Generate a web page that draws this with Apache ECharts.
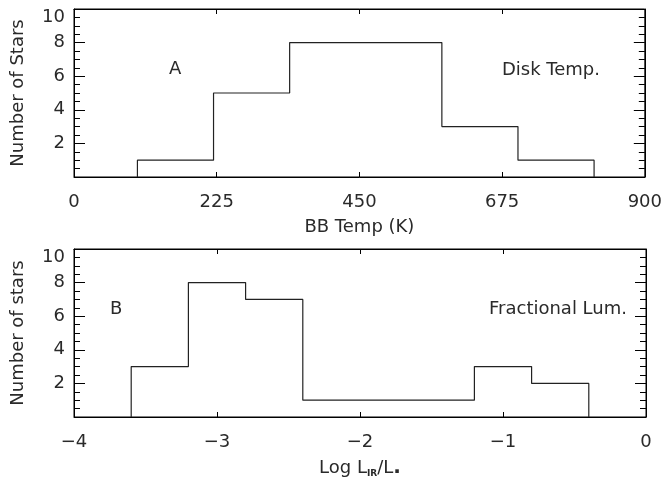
<!DOCTYPE html>
<html>
<head>
<meta charset="utf-8">
<script src="https://cdn.jsdelivr.net/npm/echarts@6/dist/echarts.min.js"></script>
<style>
html,body{margin:0;padding:0;background:#fff;}
#chart{width:665px;height:479px;}
</style>
</head>
<body>
<div id="chart"></div>
<script>
// Panel A: disk blackbody temperature histogram
var tempEdges = [100, 220, 340, 460, 580, 700, 820];
var tempCounts = [1, 5, 8, 8, 3, 1];
var tempTicks = [0, 225, 450, 675, 900];

// Panel B: fractional luminosity histogram
var lumEdges = [-3.6, -3.2, -2.8, -2.4, -2.0, -1.6, -1.2, -0.8, -0.4];
var lumCounts = [3, 8, 7, 1, 1, 1, 3, 2];
var lumTicks = [-4, -3, -2, -1, 0];

var yTicks = [2, 4, 6, 8, 10];

function stepPoints(edges, counts) {
  var pts = [[edges[0], 0]];
  for (var i = 0; i < counts.length; i++) {
    pts.push([edges[i], counts[i]]);
    pts.push([edges[i + 1], counts[i]]);
  }
  pts.push([edges[edges.length - 1], 0]);
  return pts;
}

var FONT = 'DejaVu Sans';
var FS = 18;
var TXT = '#2a2a2a';

function xAxisBottom(gi, ticks, name, nameRich) {
  return {
    type: 'value', gridIndex: gi, position: 'bottom',
    min: ticks[0], max: ticks[ticks.length - 1], interval: ticks[1] - ticks[0],
    axisLine: {show: true, onZero: false, lineStyle: {color: '#000', width: 1}},
    axisTick: {show: true, inside: true, length: 5, lineStyle: {color: '#000'}},
    splitLine: {show: false},
    axisLabel: {
      margin: 16, fontFamily: FONT, fontSize: FS, color: TXT,
      formatter: function (v) { return String(v).replace('-', '\u2212'); }
    },
    name: name, nameLocation: 'middle', nameGap: 41,
    nameTextStyle: {fontFamily: FONT, fontSize: FS, color: TXT, rich: nameRich || {}}
  };
}
function xAxisTop(gi, ticks) {
  return {
    type: 'value', gridIndex: gi, position: 'top',
    min: ticks[0], max: ticks[ticks.length - 1], interval: ticks[1] - ticks[0],
    axisLine: {show: true, onZero: false, lineStyle: {color: '#000', width: 1}},
    axisTick: {show: true, inside: true, length: 5, lineStyle: {color: '#000'}},
    splitLine: {show: false},
    axisLabel: {show: false}
  };
}
function yAxisLeft(gi, name) {
  return {
    type: 'value', gridIndex: gi, position: 'left', min: 0, max: 10, interval: 2,
    axisLine: {show: true, onZero: false, lineStyle: {color: '#000', width: 1}},
    axisTick: {show: true, inside: true, length: 11, lineStyle: {color: '#000'}},
    minorTick: {show: true, splitNumber: 4, length: 6, lineStyle: {color: '#000'}},
    splitLine: {show: false},
    axisLabel: {
      margin: 9, fontFamily: FONT, fontSize: FS, color: TXT,
      formatter: function (v) {
        if (v === 10) return '{top|10}';
        return yTicks.indexOf(v) >= 0 ? String(v) : '';
      },
      rich: {top: {fontFamily: FONT, fontSize: FS, color: TXT, padding: [16, 0, 0, 0]}}
    },
    name: name, nameLocation: 'middle', nameGap: 47,
    nameTextStyle: {fontFamily: FONT, fontSize: FS, color: TXT}
  };
}
function yAxisRight(gi) {
  return {
    type: 'value', gridIndex: gi, position: 'right', min: 0, max: 10, interval: 2,
    axisLine: {show: true, onZero: false, lineStyle: {color: '#000', width: 1}},
    axisTick: {show: true, inside: true, length: 11, lineStyle: {color: '#000'}},
    minorTick: {show: true, splitNumber: 4, length: 6, lineStyle: {color: '#000'}},
    splitLine: {show: false},
    axisLabel: {show: false}
  };
}

var chart = echarts.init(document.getElementById('chart'), null, {renderer: 'canvas'});
chart.setOption({
  animation: false,
  backgroundColor: '#fff',
  grid: [
    {left: 74, right: 19, top: 9, height: 168, show: true, borderColor: '#000', borderWidth: 1, backgroundColor: 'transparent'},
    {left: 74, right: 19, top: 249, height: 168, show: true, borderColor: '#000', borderWidth: 1, backgroundColor: 'transparent'}
  ],
  xAxis: [
    xAxisBottom(0, tempTicks, 'BB Temp (K)'),
    xAxisTop(0, tempTicks),
    xAxisBottom(1, lumTicks, 'Log L{ir|IR}/L{sun|.}', {
      ir: {fontFamily: FONT, fontSize: 9, fontWeight: 'bold', color: TXT, verticalAlign: 'bottom'},
      sun: {fontFamily: FONT, fontSize: 20, fontWeight: 'bold', color: TXT}
    }),
    xAxisTop(1, lumTicks)
  ],
  yAxis: [
    yAxisLeft(0, 'Number of Stars'),
    yAxisRight(0),
    yAxisLeft(1, 'Number of stars'),
    yAxisRight(1)
  ],
  series: [
    {
      type: 'line', xAxisIndex: 0, yAxisIndex: 0, showSymbol: false, silent: true,
      data: stepPoints(tempEdges, tempCounts),
      lineStyle: {color: '#222', width: 1.2}
    },
    {
      type: 'line', xAxisIndex: 2, yAxisIndex: 2, showSymbol: false, silent: true,
      data: stepPoints(lumEdges, lumCounts),
      lineStyle: {color: '#222', width: 1.2}
    }
  ],
  graphic: [
    {type: 'text', left: 169, top: 60, style: {text: 'A', font: '18px "DejaVu Sans"', fill: TXT}},
    {type: 'text', right: 65, top: 61, style: {text: 'Disk Temp.', font: '18px "DejaVu Sans"', fill: TXT}},
    {type: 'text', left: 110, top: 300, style: {text: 'B', font: '18px "DejaVu Sans"', fill: TXT}},
    {type: 'text', right: 38, top: 300, style: {text: 'Fractional Lum.', font: '18px "DejaVu Sans"', fill: TXT}}
  ]
});
</script>
</body>
</html>
